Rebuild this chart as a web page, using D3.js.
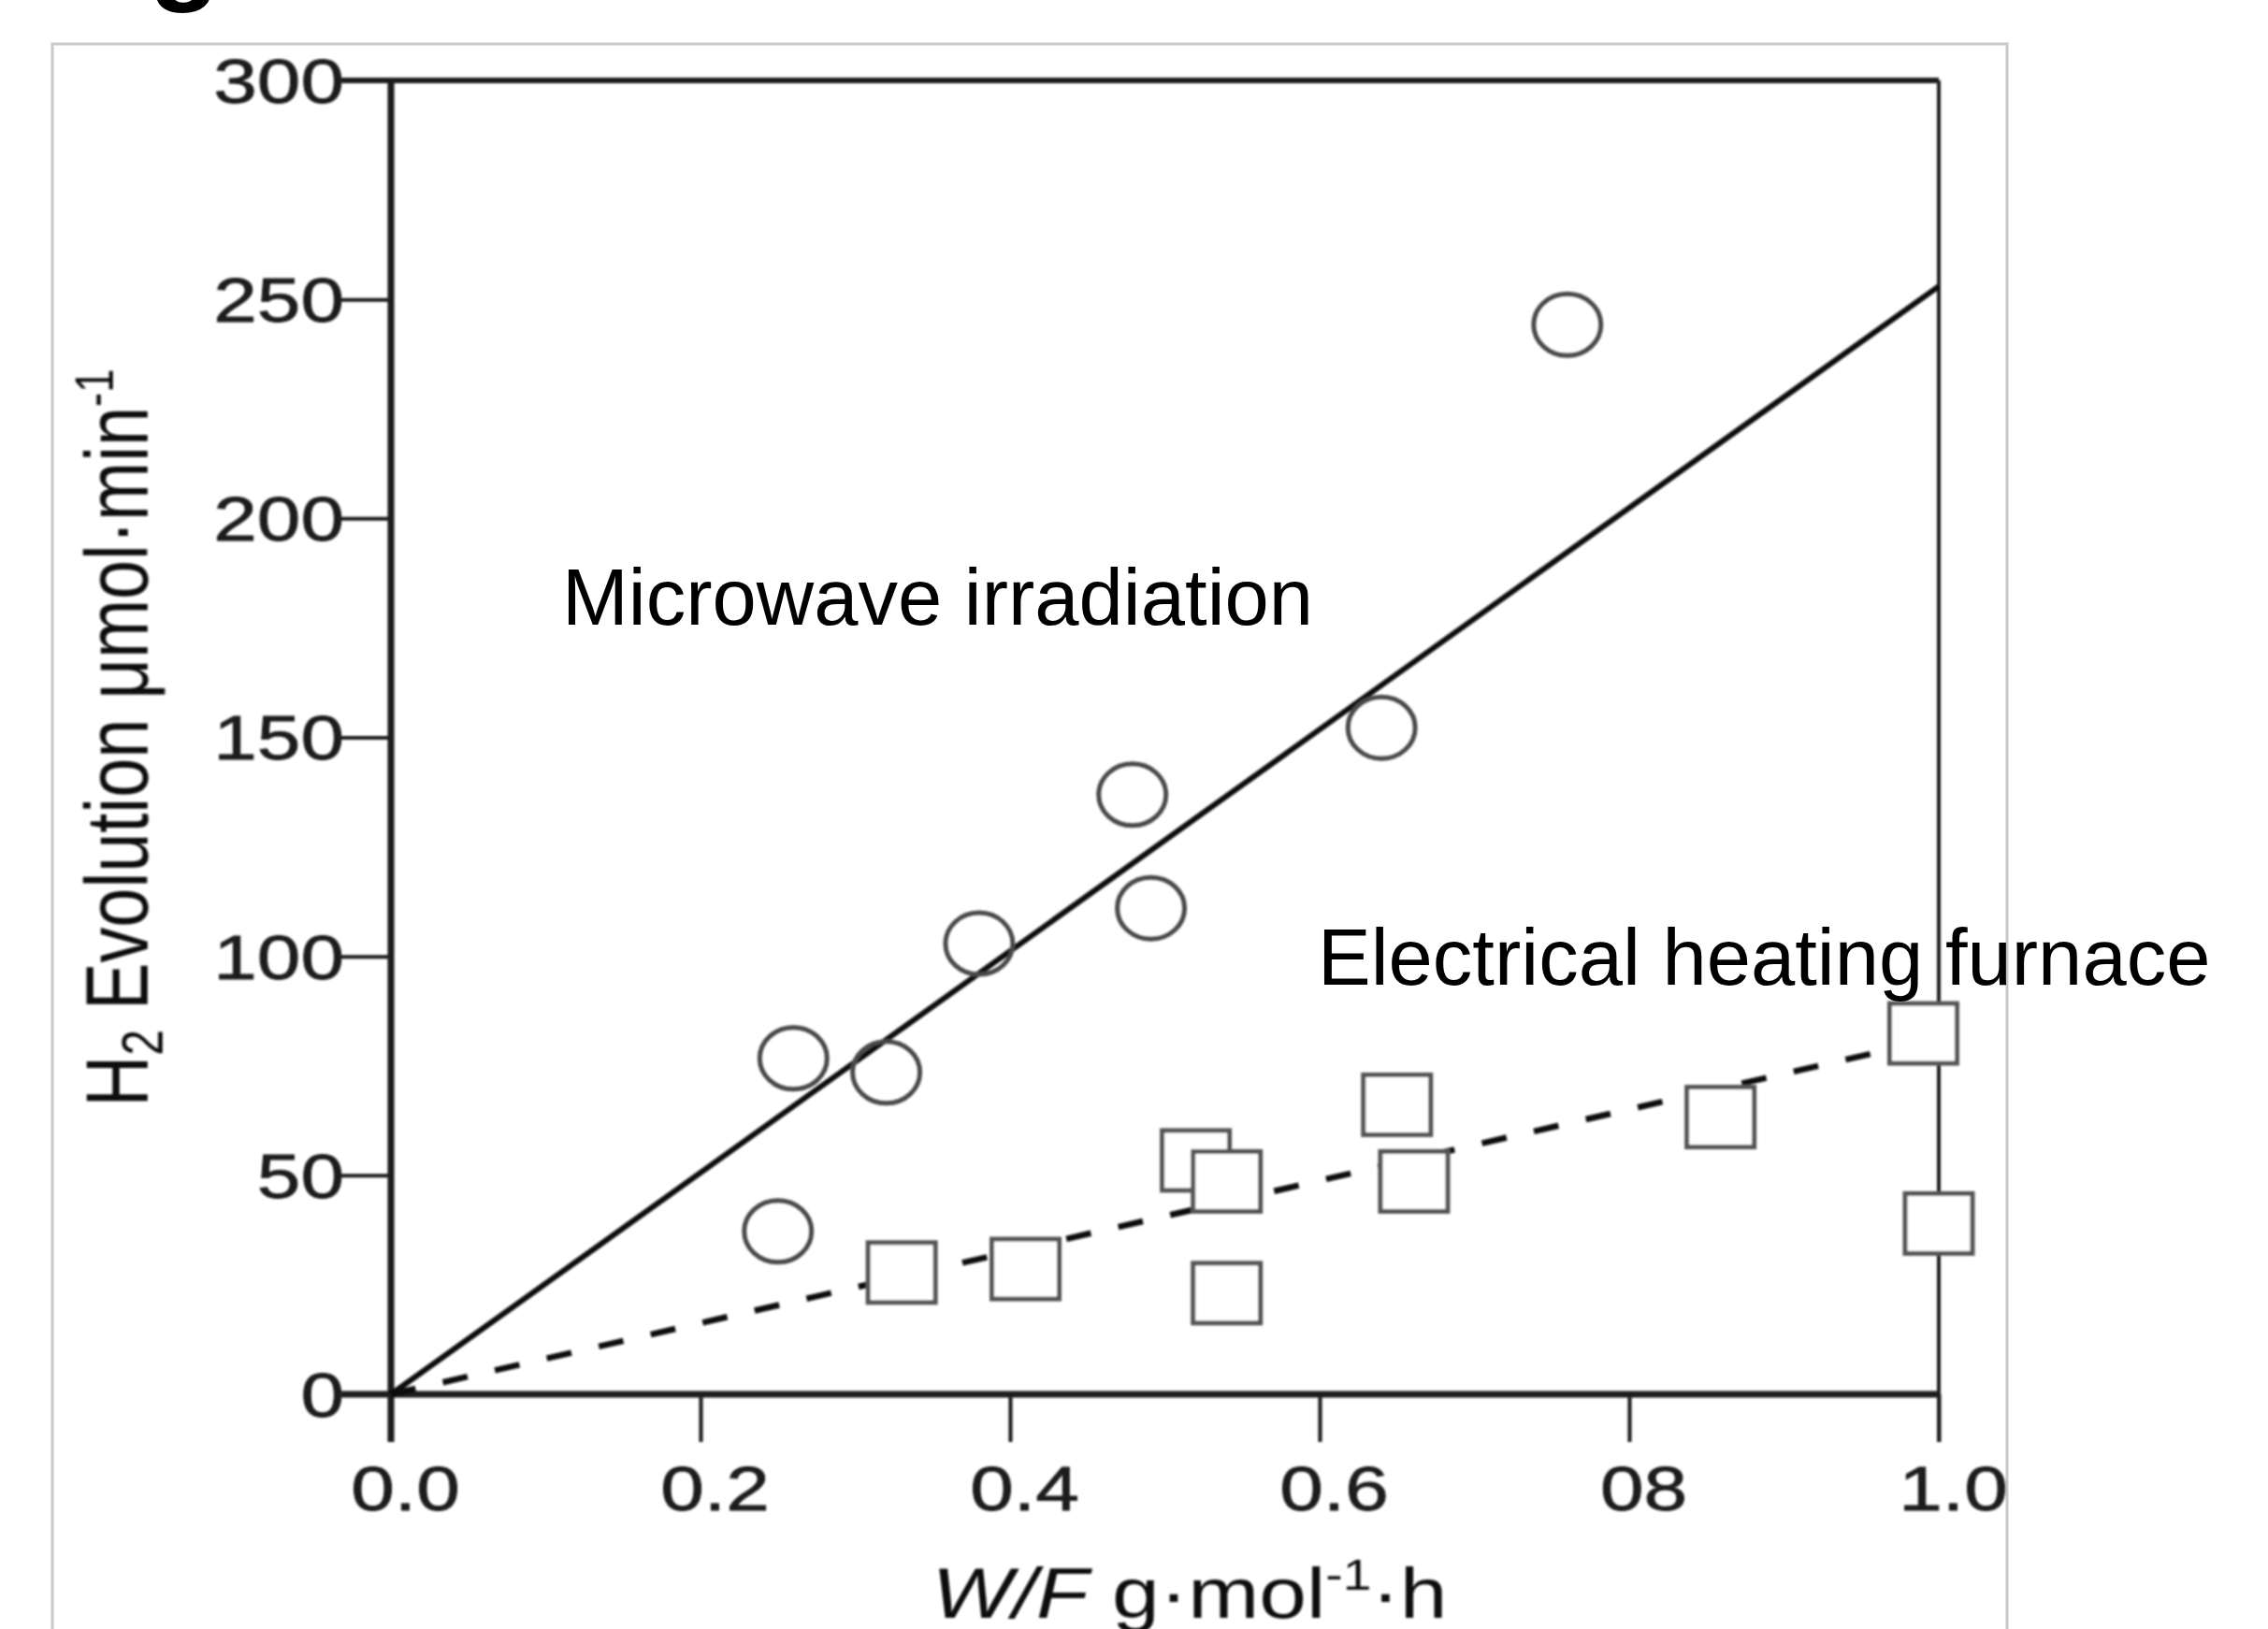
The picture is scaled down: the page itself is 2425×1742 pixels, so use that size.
<!DOCTYPE html>
<html><head><meta charset="utf-8">
<script src="https://cdn.jsdelivr.net/npm/d3@7"></script>
<style>body{margin:0;background:#fff;overflow:hidden}</style>
</head><body>
<svg id="chart" width="2425" height="1742"></svg>
<script>
// ---------- data ----------
const xTickValues = [0, 0.2, 0.4, 0.6, 0.8, 1.0];
const xTickLabels = ["0.0", "0.2", "0.4", "0.6", "08", "1.0"];
const yTickValues = [0, 50, 100, 150, 200, 250, 300];
const yTickLabels = ["0", "50", "100", "150", "200", "250", "300"];

const microwaveX = [0.26, 0.25, 0.32, 0.38, 0.479, 0.491, 0.64, 0.76];
const microwaveY = [76.7, 37.2, 73.5, 102.9, 136.9, 111.0, 152.2, 244.2];

const furnaceX = [0.33, 0.41, 0.52, 0.54, 0.54, 0.65, 0.661, 0.859, 0.99, 1.0];
const furnaceY = [27.8, 28.6, 53.4, 48.6, 23.1, 66.1, 48.6, 63.3, 82.4, 39.0];

const microwaveFitX = [0, 1.0];
const microwaveFitY = [0, 253];
const furnaceFitX = [0, 0.99];
const furnaceFitY = [0, 80.5];

const microwaveLabel = "Microwave irradiation";
const furnaceLabel = "Electrical heating furnace";

// ---------- layout ----------
const W = 2425, H = 1742;
const L = 418, R = 2073, T = 86, B = 1491;
const FONT = "'Liberation Sans', Arial, Helvetica, sans-serif";
const STRETCH = 1.25;

const svg = d3.select("#chart");
svg.append("rect").attr("width", W).attr("height", H).attr("fill", "#fff");

const defs = svg.append("defs");
defs.append("filter").attr("id", "soft")
  .append("feGaussianBlur").attr("stdDeviation", 1.2);

const x = d3.scaleLinear().domain([0, 1]).range([L, R]);
const y = d3.scaleLinear().domain([0, 300]).range([B, T]);

// cut-off figure heading at top-left (as in the source)
svg.append("text").attr("x", 48).attr("y", -12)
  .attr("font-family", FONT).attr("font-weight", "bold").attr("font-size", 125)
  .attr("fill", "#000").text("Fig");

// outer light frame
svg.append("rect").attr("x", 56).attr("y", 47).attr("width", 2090).attr("height", 1760)
  .attr("fill", "none").attr("stroke", "#c8c8c8").attr("stroke-width", 3);

const g = svg.append("g").attr("filter", "url(#soft)");

// axes via d3
const yAxis = d3.axisLeft(y).tickValues(yTickValues)
  .tickFormat((d, i) => yTickLabels[i]).tickSizeInner(53).tickSizeOuter(0);
const xAxis = d3.axisBottom(x).tickValues(xTickValues)
  .tickFormat((d, i) => xTickLabels[i]).tickSizeInner(51).tickSizeOuter(0);

const ya = g.append("g").attr("transform", `translate(${L},0)`).call(yAxis);
const xa = g.append("g").attr("transform", `translate(0,${B})`).call(xAxis);
[ya, xa].forEach(a => {
  a.select(".domain").remove();
  a.selectAll(".tick line").attr("stroke", "#1a1a1a").attr("stroke-width", 4);
  a.selectAll(".tick text").attr("fill", "#1a1a1a").attr("font-family", FONT)
    .attr("font-size", 67).attr("stroke", "#1a1a1a").attr("stroke-width", 0.8);
});
ya.selectAll(".tick text").attr("x", null).attr("dy", "0.35em")
  .attr("text-anchor", "end")
  .attr("transform", `translate(-50,0) scale(${STRETCH},1)`);
xa.selectAll(".tick text").attr("y", null).attr("dy", "0.35em")
  .attr("text-anchor", "middle")
  .attr("transform", `translate(15,101) scale(${STRETCH},1)`);

// plot box lines
const box = [
  {x1: L, y1: T, x2: L, y2: B + 51, w: 7},
  {x1: L - 53, y1: B, x2: R, y2: B, w: 7},
  {x1: L - 53, y1: T, x2: R, y2: T, w: 6},
  {x1: R, y1: T, x2: R, y2: B + 51, w: 4}
];
g.selectAll("line.box").data(box).enter().append("line").attr("class", "box")
  .attr("x1", d => d.x1).attr("y1", d => d.y1).attr("x2", d => d.x2).attr("y2", d => d.y2)
  .attr("stroke", "#1a1a1a").attr("stroke-width", d => d.w);

// fit lines
const line = d3.line().x(d => x(d[0])).y(d => y(d[1]));
g.append("path").datum(d3.zip(microwaveFitX, microwaveFitY)).attr("d", line)
  .attr("fill", "none").attr("stroke", "#111").attr("stroke-width", 6);
g.append("path").datum(d3.zip(furnaceFitX, furnaceFitY)).attr("d", line)
  .attr("fill", "none").attr("stroke", "#111").attr("stroke-width", 6.5)
  .attr("stroke-dasharray", "27,30");

// markers
const CRX = 36, CRY = 33, SQW = 36, SQH = 32;
g.selectAll("ellipse.mw").data(d3.zip(microwaveX, microwaveY)).enter()
  .append("ellipse").attr("class", "mw")
  .attr("cx", d => x(d[0])).attr("cy", d => y(d[1]))
  .attr("rx", CRX).attr("ry", CRY)
  .attr("fill", "none").attr("stroke", "#4a4a4a").attr("stroke-width", 5);
g.selectAll("rect.ef").data(d3.zip(furnaceX, furnaceY)).enter()
  .append("rect").attr("class", "ef")
  .attr("x", d => x(d[0]) - SQW).attr("y", d => y(d[1]) - SQH)
  .attr("width", 2 * SQW).attr("height", 2 * SQH)
  .attr("fill", "#fff").attr("stroke", "#555").attr("stroke-width", 5);

// y axis title (stretched horizontally like the source image)
const yt = g.append("text").attr("font-family", FONT).attr("font-size", 75)
  .attr("fill", "#111").attr("text-anchor", "middle")
  .attr("transform", `translate(158,789) scale(${STRETCH},1) rotate(-90)`);
yt.append("tspan").text("H");
yt.append("tspan").attr("font-size", 50).attr("baseline-shift", -12).text("2");
yt.append("tspan").text(" Evolution \u03bcmol\u00b7min");
yt.append("tspan").attr("font-size", 45).attr("baseline-shift", 30).text("-1");
{
  const len = yt.node().getComputedTextLength();
  const f = 75 * 789 / len;
  yt.attr("font-size", f);
  yt.selectAll("tspan").filter((d, i) => i === 1).attr("font-size", f * 0.66).attr("baseline-shift", -f * 0.16);
  yt.selectAll("tspan").filter((d, i) => i === 3).attr("font-size", f * 0.6).attr("baseline-shift", f * 0.4);
}

// x axis title
const xt = g.append("text").attr("font-family", FONT).attr("font-size", 76)
  .attr("fill", "#111").attr("text-anchor", "middle");
xt.append("tspan").attr("font-style", "italic").text("W/F");
xt.append("tspan").text(" g\u00b7mol");
xt.append("tspan").attr("font-size", 46).attr("baseline-shift", 30).text("-1");
xt.append("tspan").text("\u00b7h");
{
  const w = xt.node().getBBox().width;
  xt.attr("transform", `translate(1272,1730) scale(${551 / w},1)`);
}

// annotations (crisp)
svg.append("text").attr("x", 601).attr("y", 668)
  .attr("font-family", FONT).attr("font-size", 85).attr("fill", "#000")
  .text(microwaveLabel);
svg.append("text").attr("x", 1409).attr("y", 1053)
  .attr("font-family", FONT).attr("font-size", 85).attr("fill", "#000")
  .text(furnaceLabel);
</script>
</body></html>
